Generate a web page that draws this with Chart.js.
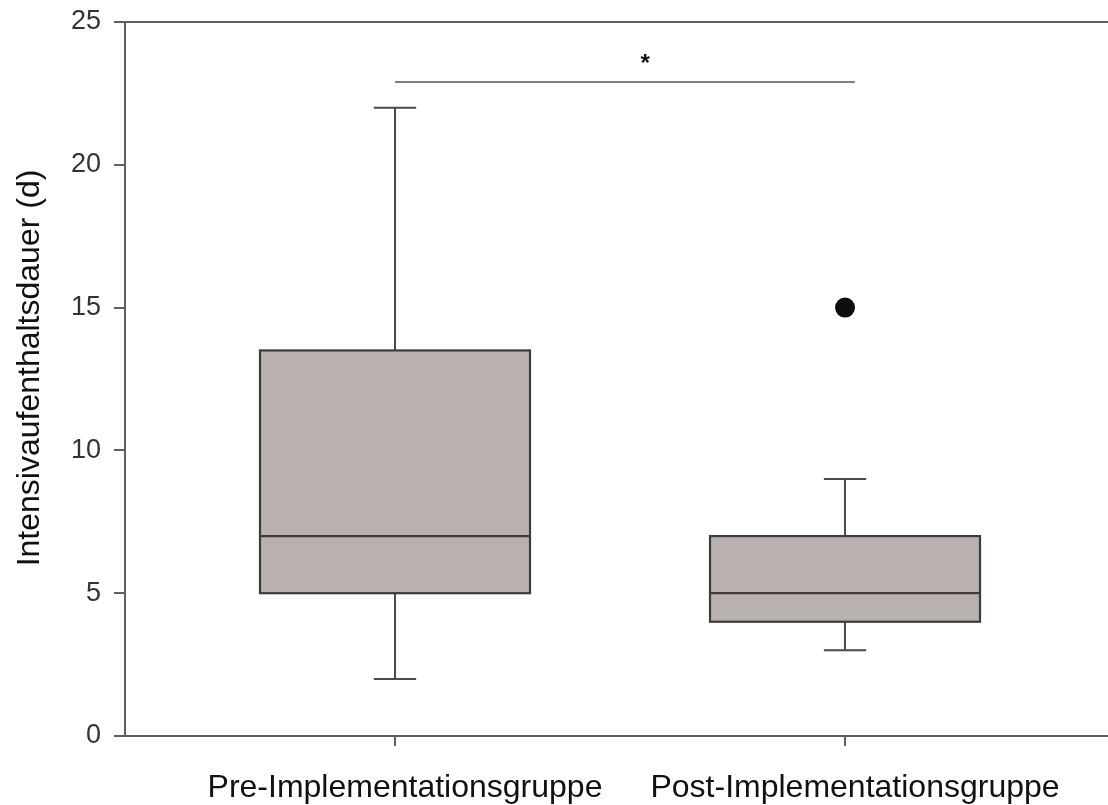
<!DOCTYPE html>
<html>
<head>
<meta charset="utf-8">
<script src="https://cdn.jsdelivr.net/npm/chart.js@4"></script>
<style>
  html, body { margin: 0; padding: 0; background: #ffffff; }
  #wrap { width: 1108px; height: 805px; }
</style>
</head>
<body>
<div id="wrap"><canvas id="chart" width="1108" height="805"></canvas></div>
<script>
// Group names shown on the x axis
const groups = ['Pre-Implementationsgruppe', 'Post-Implementationsgruppe'];

// Box-plot summary values per group (days)
const whiskerLow  = [2, 3];
const q1          = [5, 4];
const median      = [7, 5];
const q3          = [13.5, 7];
const whiskerHigh = [22, 9];

// Outlying observations per group
const outliers = [[], [15]];

// Y axis tick values
const yTicks = [0, 5, 10, 15, 20, 25];

// Y axis title
const yTitle = 'Intensivaufenthaltsdauer (d)';

// Significance bracket between the two groups
const sigFrom = 0;
const sigTo = 1.022;
const sigLevel = 22.9;
const sigLabel = '*';

const FONT = '"Liberation Sans", Arial, Helvetica, sans-serif';
const AXIS_GREY = '#5f5f5f';

const outlierPoints = [];
outliers.forEach((list, i) => list.forEach(v => outlierPoints.push({ x: i, y: v })));

// Draws boxes, medians and whiskers from the summary arrays via the chart scales
const boxPlotPlugin = {
  id: 'boxPlot',
  beforeDatasetsDraw(chart) {
    const { ctx, scales: { x, y } } = chart;
    const halfBox = 0.3;
    const halfCap = 0.047;
    ctx.save();
    groups.forEach((g, i) => {
      const xl = x.getPixelForValue(i - halfBox);
      const xr = x.getPixelForValue(i + halfBox);
      const xc = x.getPixelForValue(i);
      const cl = x.getPixelForValue(i - halfCap);
      const cr = x.getPixelForValue(i + halfCap);
      const yLo = y.getPixelForValue(whiskerLow[i]);
      const yQ1 = y.getPixelForValue(q1[i]);
      const yMed = y.getPixelForValue(median[i]);
      const yQ3 = y.getPixelForValue(q3[i]);
      const yHi = y.getPixelForValue(whiskerHigh[i]);

      // whiskers
      ctx.strokeStyle = '#4a4a4a';
      ctx.lineWidth = 2;
      ctx.beginPath();
      ctx.moveTo(xc, yQ3); ctx.lineTo(xc, yHi);
      ctx.moveTo(cl, yHi); ctx.lineTo(cr, yHi);
      ctx.moveTo(xc, yQ1); ctx.lineTo(xc, yLo);
      ctx.moveTo(cl, yLo); ctx.lineTo(cr, yLo);
      ctx.stroke();

      // box
      ctx.fillStyle = '#b8b1ad';
      ctx.fillRect(xl, yQ3, xr - xl, yQ1 - yQ3);
      ctx.strokeStyle = '#3c3c3c';
      ctx.lineWidth = 2.2;
      ctx.strokeRect(xl, yQ3, xr - xl, yQ1 - yQ3);

      // median
      ctx.beginPath();
      ctx.moveTo(xl, yMed); ctx.lineTo(xr, yMed);
      ctx.stroke();
    });

    // significance bracket
    const sx1 = x.getPixelForValue(sigFrom);
    const sx2 = x.getPixelForValue(sigTo);
    const sy = y.getPixelForValue(sigLevel);
    ctx.strokeStyle = '#808080';
    ctx.lineWidth = 1.8;
    ctx.beginPath();
    ctx.moveTo(sx1, sy); ctx.lineTo(sx2, sy);
    ctx.stroke();
    ctx.fillStyle = '#111111';
    ctx.font = 'bold 24px ' + FONT;
    ctx.textAlign = 'center';
    ctx.textBaseline = 'alphabetic';
    ctx.fillText(sigLabel, x.getPixelForValue(0.556), y.getPixelForValue(23.3));
    ctx.restore();
  }
};

// Rotated y axis title, set a little above the middle of the plot height
const yTitlePlugin = {
  id: 'yTitle',
  afterDraw(chart) {
    const { ctx, chartArea } = chart;
    ctx.save();
    ctx.translate(30, (chartArea.top + chartArea.bottom) / 2 - 11);
    ctx.rotate(-Math.PI / 2);
    ctx.fillStyle = '#111111';
    ctx.font = '32px ' + FONT;
    ctx.textAlign = 'center';
    ctx.textBaseline = 'middle';
    ctx.fillText(yTitle, 0, 0);
    ctx.restore();
  }
};

const whiteBg = {
  id: 'whiteBg',
  beforeDraw(chart) {
    const { ctx, width, height } = chart;
    ctx.save();
    ctx.fillStyle = '#ffffff';
    ctx.fillRect(0, 0, width, height);
    ctx.restore();
  }
};

new Chart(document.getElementById('chart'), {
  type: 'scatter',
  data: {
    datasets: [{
      label: 'Ausreißer',
      data: outlierPoints,
      pointRadius: 10,
      pointHoverRadius: 10,
      pointBackgroundColor: '#0d0d0d',
      pointBorderColor: '#0d0d0d',
      pointBorderWidth: 0
    }]
  },
  options: {
    responsive: false,
    animation: false,
    events: [],
    layout: { autoPadding: false, padding: { top: 22, right: 0, bottom: 0, left: 0 } },
    plugins: {
      legend: { display: false },
      tooltip: { enabled: false }
    },
    scales: {
      x: {
        type: 'linear',
        min: -0.6,
        max: 1.5844,
        afterBuildTicks(scale) {
          scale.ticks = groups.map((_, i) => ({ value: i }));
        },
        afterFit(scale) {
          scale.height = 69;
          scale.paddingLeft = 0;
          scale.paddingRight = 0;
        },
        ticks: {
          autoSkip: false,
          maxRotation: 0,
          padding: 23,
          labelOffset: 10,
          color: '#111111',
          font: { family: FONT, size: 32 },
          callback: (v) => groups[v] ?? ''
        },
        grid: {
          drawOnChartArea: false,
          drawTicks: true,
          tickLength: 10,
          tickColor: AXIS_GREY,
          tickWidth: 2,
          lineWidth: 2,
          color: AXIS_GREY
        },
        border: { display: true, color: AXIS_GREY, width: 2 }
      },
      y: {
        type: 'linear',
        min: 0,
        max: 25,
        afterBuildTicks(scale) {
          scale.ticks = yTicks.map(v => ({ value: v }));
        },
        afterFit(scale) {
          scale.width = 125;
          scale.paddingTop = 0;
          scale.paddingBottom = 0;
        },
        ticks: {
          padding: 13,
          color: '#333333',
          font: { family: FONT, size: 27 }
        },
        grid: {
          drawOnChartArea: true,
          drawTicks: true,
          tickLength: 11,
          tickColor: AXIS_GREY,
          tickWidth: 2,
          lineWidth: 2,
          color: (c) => (c.tick && c.tick.value === 25 ? AXIS_GREY : 'rgba(0,0,0,0)')
        },
        border: { display: true, color: AXIS_GREY, width: 2 }
      }
    }
  },
  plugins: [whiteBg, boxPlotPlugin, yTitlePlugin]
});
</script>
</body>
</html>
